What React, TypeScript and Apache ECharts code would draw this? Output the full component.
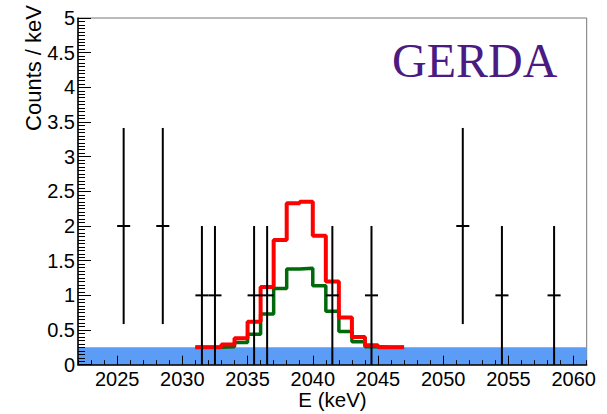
import React, { useEffect, useRef } from "react";
import * as echarts from "echarts";

// Energy window (keV)
const E_MIN = 2022;
const E_MAX = 2061;

// Tick positions on the energy axis
const xMajorTicks = [2025, 2030, 2035, 2040, 2045, 2050, 2055, 2060];
const xMinorTicks = [
  2022, 2023, 2024, 2025, 2026, 2027, 2028, 2029, 2030, 2031, 2032, 2033, 2034,
  2035, 2036, 2037, 2038, 2039, 2040, 2041, 2042, 2043, 2044, 2045, 2046, 2047,
  2048, 2049, 2050, 2051, 2052, 2053, 2054, 2055, 2056, 2057, 2058, 2059, 2060,
  2061,
];

// Observed events: energy (keV) and counts / keV in a 1 keV bin
const eventEnergies = [
  2025.5, 2028.5, 2031.5, 2032.5, 2035.5, 2036.5, 2041.5, 2044.5, 2051.5,
  2054.5, 2058.5,
];
const eventCounts = [2, 2, 1, 1, 1, 1, 1, 1, 2, 1, 1];

// Background level (counts / keV)
const backgroundLevel = 0.25;

// Expected spectra, 1 keV bins starting at these lower edges
const binLowEdges = [
  2031, 2032, 2033, 2034, 2035, 2036, 2037, 2038, 2039, 2040, 2041, 2042, 2043,
  2044, 2045, 2046,
];
const binUpperEnd = 2047;
const signalHigh = [
  0.25, 0.25, 0.29, 0.38, 0.62, 1.12, 1.8, 2.33, 2.35, 1.86, 1.2, 0.68, 0.4,
  0.28, 0.25, 0.25,
];
const signalLow = [
  0.25, 0.25, 0.26, 0.32, 0.44, 0.73, 1.1, 1.38, 1.39, 1.14, 0.77, 0.48, 0.33,
  0.26, 0.25, 0.25,
];

const stepData = (vals: number[]) => {
  const pts: number[][] = binLowEdges.map((e, i) => [e, vals[i]]);
  pts.push([binUpperEnd, vals[vals.length - 1]]);
  return pts;
};

const SANS = "'Liberation Sans', Arial, Helvetica, sans-serif";
const SERIF = "'Liberation Serif', 'Times New Roman', serif";

export default function App() {
  const ref = useRef<HTMLDivElement>(null);

  useEffect(() => {
    if (!ref.current) return;
    const chart = echarts.init(ref.current, undefined, { renderer: "svg" });

    const option: any = {
      animation: false,
      backgroundColor: "#fff",
      grid: {
        left: 78,
        right: 20.3,
        top: 18,
        bottom: 49.3,
        show: true,
        borderColor: "#777",
        borderWidth: 1,
        backgroundColor: "transparent",
      },
      xAxis: [
        {
          type: "value",
          min: E_MIN,
          max: E_MAX,
          position: "bottom",
          z: 5,
          axisLine: { show: true, lineStyle: { color: "#000", width: 1.5 } },
          axisTick: {
            show: true,
            inside: true,
            length: 4.5,
            customValues: xMinorTicks,
            lineStyle: { color: "#000", width: 1 },
          },
          axisLabel: {
            show: true,
            customValues: xMajorTicks,
            formatter: (v: number) => String(v),
            fontSize: 20,
            fontFamily: SANS,
            color: "#000",
            margin: 4,
          },
          splitLine: { show: false },
        },
        {
          type: "value",
          min: E_MIN,
          max: E_MAX,
          position: "bottom",
          z: 5,
          axisLine: { show: false },
          axisTick: {
            show: true,
            inside: true,
            length: 9,
            customValues: xMajorTicks,
            lineStyle: { color: "#000", width: 1 },
          },
          axisLabel: { show: false },
          splitLine: { show: false },
        },
      ],
      yAxis: {
        type: "value",
        min: 0,
        max: 5,
        interval: 0.5,
        z: 5,
        axisLine: { show: true, lineStyle: { color: "#000", width: 1.5 } },
        axisTick: {
          show: true,
          inside: true,
          length: 13,
          lineStyle: { color: "#000", width: 1 },
        },
        minorTick: {
          show: true,
          splitNumber: 10,
          length: 7,
          lineStyle: { color: "#000", width: 1 },
        },
        axisLabel: {
          fontSize: 20,
          fontFamily: SANS,
          color: "#000",
          margin: 3,
        },
        splitLine: { show: false },
        minorSplitLine: { show: false },
      },
      series: [
        {
          name: "background",
          type: "line",
          data: [
            [E_MIN, backgroundLevel],
            [E_MAX, backgroundLevel],
          ],
          symbol: "none",
          lineStyle: { width: 0 },
          areaStyle: { color: "#5a9cf6", opacity: 1 },
          z: 1,
          silent: true,
        },
        {
          name: "low",
          type: "line",
          step: "end",
          data: stepData(signalLow),
          symbol: "none",
          lineStyle: { color: "#006a0a", width: 3.5 },
          z: 2,
        },
        {
          name: "high",
          type: "line",
          step: "end",
          data: stepData(signalHigh),
          symbol: "none",
          lineStyle: { color: "#ff0000", width: 4 },
          z: 3,
        },
        {
          name: "events",
          type: "custom",
          z: 4,
          encode: { x: 0, y: 1 },
          data: eventEnergies.map((e, i) => [
            e,
            eventCounts[i],
            Math.sqrt(eventCounts[i]),
          ]),
          renderItem: (params: any, api: any) => {
            const x = api.value(0);
            const y = api.value(1);
            const err = api.value(2);
            const c = api.coord([x, y]);
            const top = api.coord([x, y + err]);
            const bot = api.coord([x, Math.max(0, y - err)]);
            const l = api.coord([x - 0.5, y]);
            const r = api.coord([x + 0.5, y]);
            const style = { stroke: "#000", lineWidth: 2 };
            return {
              type: "group",
              children: [
                {
                  type: "line",
                  shape: { x1: c[0], y1: top[1], x2: c[0], y2: bot[1] },
                  style,
                },
                {
                  type: "line",
                  shape: { x1: l[0], y1: c[1], x2: r[0], y2: c[1] },
                  style,
                },
              ],
            };
          },
        },
      ],
      graphic: [
        {
          type: "text",
          left: 392,
          top: 36,
          style: {
            text: "GERDA",
            fill: "#4b1a82",
            font: `48px ${SERIF}`,
          },
        },
        {
          type: "text",
          x: 33,
          y: 5,
          rotation: Math.PI / 2,
          style: {
            text: "Counts / keV",
            fill: "#000",
            font: `22px ${SANS}`,
            align: "right",
            verticalAlign: "middle",
          },
        },
        {
          type: "text",
          x: 332.5,
          y: 399,
          style: {
            text: "E (keV)",
            fill: "#000",
            font: `20.5px ${SANS}`,
            align: "center",
            verticalAlign: "middle",
          },
        },
      ],
    };

    chart.setOption(option);
    return () => chart.dispose();
  }, []);

  return (
    <div
      ref={ref}
      style={{ position: "absolute", left: 0, top: 0, width: 607, height: 414 }}
    />
  );
}
